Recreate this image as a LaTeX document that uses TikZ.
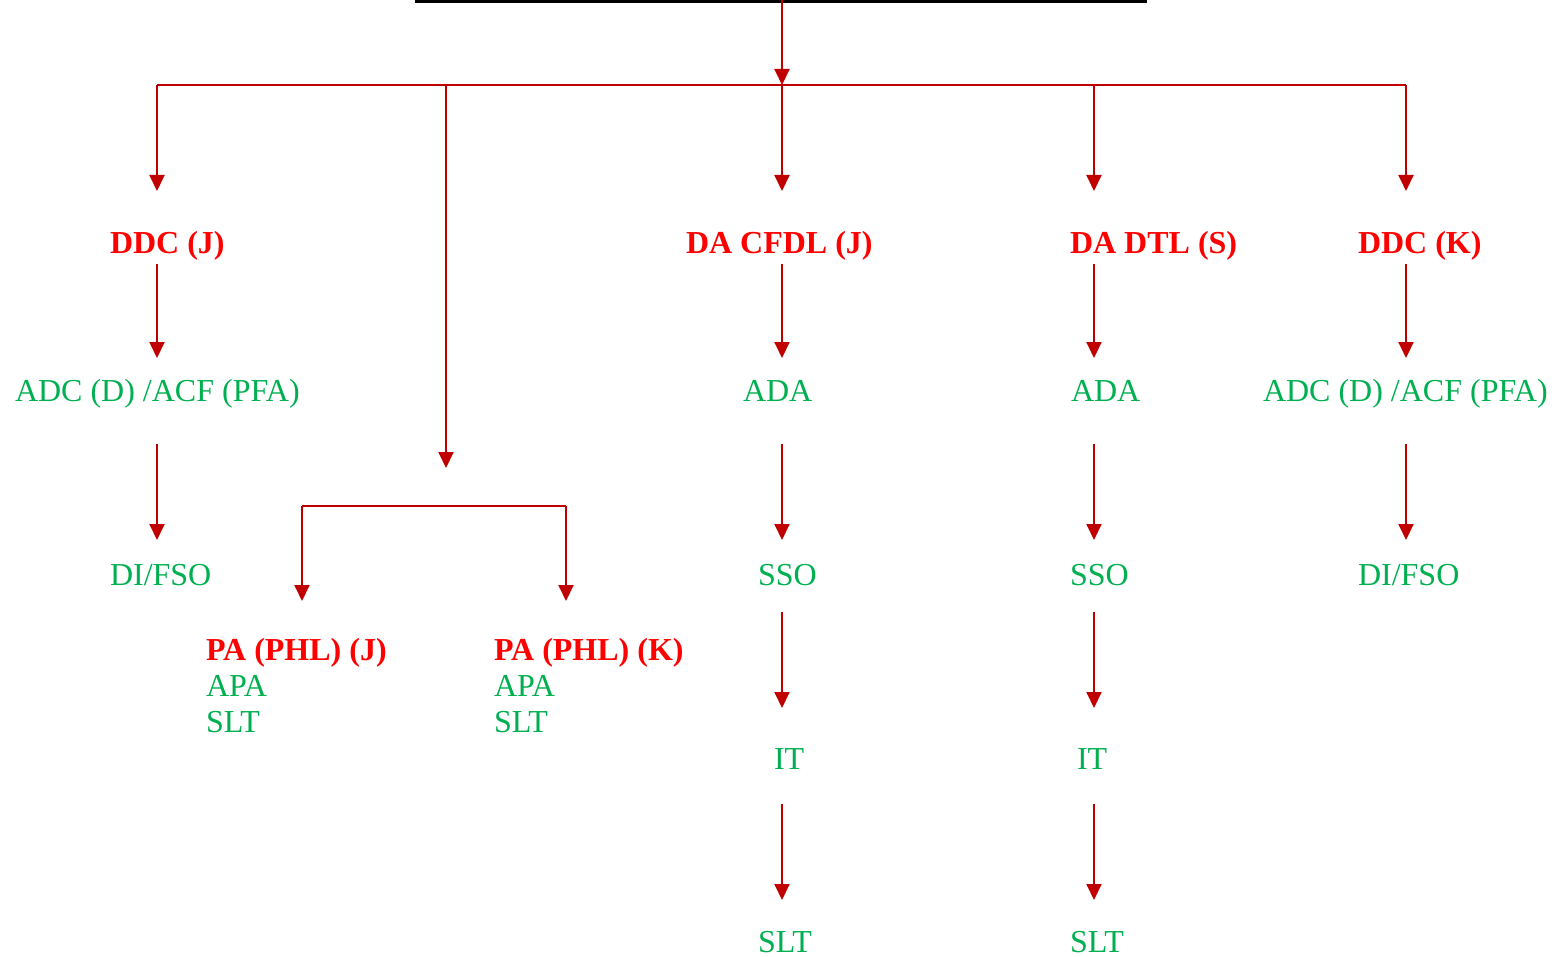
\documentclass[tikz,border=0pt]{standalone}
\usepackage{fontspec}
\setmainfont{Liberation Serif}
\usetikzlibrary{arrows.meta}
\definecolor{arrred}{HTML}{C00000}
\definecolor{txtred}{HTML}{FF0000}
\definecolor{txtgreen}{HTML}{00B050}
\begin{document}
\begin{tikzpicture}[x=1pt,y=-1pt,
  lbl/.style={anchor=base west,inner sep=0pt,outer sep=0pt,font=\fontsize{32}{36}\selectfont},
  head/.style={lbl,text=txtred,font=\fontsize{32}{36}\selectfont\bfseries},
  sub/.style={lbl,text=txtgreen},
  conn/.style={draw=arrred,line width=2pt},
  arr/.style={conn,-{Triangle[width=15pt,length=16pt]}}]
\useasboundingbox (0,0) rectangle (1557,957);
% top bar
\coordinate (barL) at (415,1.5);
\coordinate (barR) at (1147,1.5);
\draw[line width=3.2pt,black] (barL) -- (barR);
% main bus
\coordinate (top) at (782,0);
\coordinate (busC) at (782,85);
\coordinate (busL) at (157,85);
\coordinate (busR) at (1406,85);
\coordinate (busP) at (446,85);
\coordinate (busD) at (1094,85);
\draw[arr] (top) -- (busC);
\draw[conn] (busL) -- (busR);
% heads
\node[head] (ddcj) at (110,254) {DDC (J)};
\node[head] (dacfdl) at (686,254) {DA CFDL (J)};
\node[head] (dadtl) at (1070,254) {DA DTL (S)};
\node[head] (ddck) at (1358,254) {DDC (K)};
\coordinate (t1) at (157,191);
\coordinate (t3) at (782,191);
\coordinate (t4) at (1094,191);
\coordinate (t5) at (1406,191);
\coordinate (tP) at (446,468);
\draw[arr] (busL) -- (t1);
\draw[arr] (busC) -- (t3);
\draw[arr] (busD) -- (t4);
\draw[arr] (busR) -- (t5);
\draw[arr] (busP) -- (tP);
% PA bracket
\coordinate (brL) at (302,506);
\coordinate (brR) at (566,506);
\coordinate (brLt) at (302,601);
\coordinate (brRt) at (566,601);
\draw[arr] (brL) -- (brLt);
\draw[arr] (brR) -- (brRt);
\draw[conn] (brL) -- (brR);
\node[head] (paj) at (206,660) {PA (PHL) (J)};
\node[sub] (paja) at (206,696) {APA};
\node[sub] (pajs) at (206,732) {SLT};
\node[head] (pak) at (494,660) {PA (PHL) (K)};
\node[sub] (paka) at (494,696) {APA};
\node[sub] (paks) at (494,732) {SLT};
% column 1 (DDC J)
\node[sub] (adc1) at (15,401) {ADC (D) /ACF (PFA)};
\node[sub] (di1) at (110,585) {DI/FSO};
\coordinate (a1s) at (157,264); \coordinate (a1e) at (157,358);
\coordinate (b1s) at (157,444); \coordinate (b1e) at (157,540);
\draw[arr] (a1s) -- (a1e);
\draw[arr] (b1s) -- (b1e);
% column 3 (DA CFDL)
\node[sub] (ada3) at (743,401) {ADA};
\node[sub] (sso3) at (758,585) {SSO};
\node[sub] (it3) at (774,769) {IT};
\node[sub] (slt3) at (758,952) {SLT};
\coordinate (a3s) at (782,264); \coordinate (a3e) at (782,358);
\coordinate (b3s) at (782,444); \coordinate (b3e) at (782,540);
\coordinate (c3s) at (782,612); \coordinate (c3e) at (782,708);
\coordinate (d3s) at (782,804); \coordinate (d3e) at (782,900);
\draw[arr] (a3s) -- (a3e);
\draw[arr] (b3s) -- (b3e);
\draw[arr] (c3s) -- (c3e);
\draw[arr] (d3s) -- (d3e);
% column 4 (DA DTL)
\node[sub] (ada4) at (1071,401) {ADA};
\node[sub] (sso4) at (1070,585) {SSO};
\node[sub] (it4) at (1077,769) {IT};
\node[sub] (slt4) at (1070,952) {SLT};
\coordinate (a4s) at (1094,264); \coordinate (a4e) at (1094,358);
\coordinate (b4s) at (1094,444); \coordinate (b4e) at (1094,540);
\coordinate (c4s) at (1094,612); \coordinate (c4e) at (1094,708);
\coordinate (d4s) at (1094,804); \coordinate (d4e) at (1094,900);
\draw[arr] (a4s) -- (a4e);
\draw[arr] (b4s) -- (b4e);
\draw[arr] (c4s) -- (c4e);
\draw[arr] (d4s) -- (d4e);
% column 5 (DDC K)
\node[sub] (adc5) at (1263,401) {ADC (D) /ACF (PFA)};
\node[sub] (di5) at (1358,585) {DI/FSO};
\coordinate (a5s) at (1406,264); \coordinate (a5e) at (1406,358);
\coordinate (b5s) at (1406,444); \coordinate (b5e) at (1406,540);
\draw[arr] (a5s) -- (a5e);
\draw[arr] (b5s) -- (b5e);
\end{tikzpicture}
\end{document}
